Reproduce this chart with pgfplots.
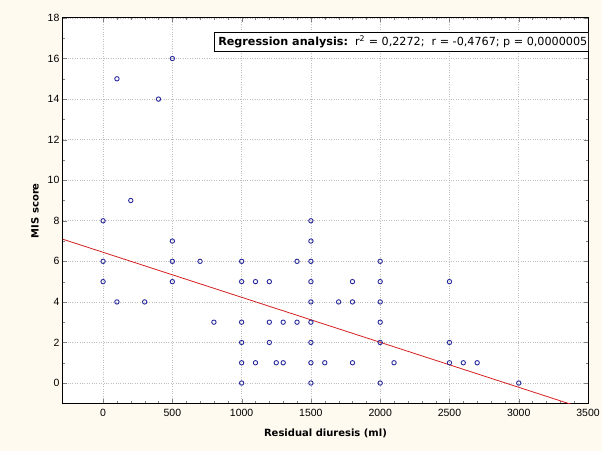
\documentclass[border=0pt]{standalone}
\usepackage{pgfplots}
\pgfplotsset{compat=1.18}
\usepackage{fontspec}
\setmainfont{Liberation Sans}
\newfontfamily\dejavu{DejaVu Sans}
\definecolor{bgcream}{HTML}{FFFAF0}
\definecolor{ptblue}{HTML}{2A2A9E}
\definecolor{regred}{HTML}{D42020}
\begin{document}
\begin{tikzpicture}
\fill[bgcream] (-63pt,-48pt) rectangle (540pt,404pt);
\begin{axis}[
  at={(0pt,0pt)}, anchor=south west,
  scale only axis, width=526pt, height=386pt,
  xmin=-290, xmax=3500, ymin=-1, ymax=18,
  xtick={0,500,...,3500}, ytick={0,2,...,18},
  minor x tick num=4, minor y tick num=1,
  tick align=inside,
  major tick length=4pt, minor tick length=2.5pt,
  axis line style={black, line width=1pt},
  axis background/.style={fill=white},
  grid=major,
  major grid style={gray!50, dotted, line width=0.6pt},
  /pgf/number format/assume math mode=true,
  /pgf/number format/1000 sep={},
  tick label style={font=\fontsize{10.5}{12}\selectfont},
  xticklabel style={yshift=-2pt},
  xlabel={\dejavu\bfseries Residual diuresis (ml)},
  ylabel={\dejavu\bfseries MIS score},
  label style={font=\fontsize{10}{12}\selectfont},
  xlabel style={yshift=-6pt},
  ylabel style={yshift=2pt},
  clip=true,
]
\addplot[only marks, mark=o, mark size=2.2pt, ptblue, mark options={line width=0.9pt}] coordinates {
(0,8) (0,6) (0,5)
(100,15) (100,4)
(200,9) (300,4) (400,14)
(500,16) (500,7) (500,6) (500,5)
(700,6) (800,3)
(1000,6) (1000,5) (1000,3) (1000,2) (1000,1) (1000,0)
(1100,5) (1100,1)
(1200,5) (1200,3) (1200,2)
(1250,1) (1300,1) (1300,3)
(1400,6) (1400,3)
(1500,8) (1500,7) (1500,6) (1500,5) (1500,4) (1500,3) (1500,2) (1500,1) (1500,0)
(1600,1) (1700,4)
(1800,5) (1800,4) (1800,1)
(2000,6) (2000,5) (2000,4) (2000,3) (2000,2) (2000,0)
(2100,1)
(2500,5) (2500,2) (2500,1)
(2600,1) (2700,1)
(3000,0)
};
\addplot[regred, line width=0.8pt] coordinates {(-290,7.09) (3500,-1.32)};
\node[draw=black, line width=0.8pt, fill=white, anchor=north east, inner sep=3.5pt,
  font=\dejavu\fontsize{11.2}{13}\selectfont] at (rel axis cs:1.006,0.964)
  {\textbf{Regression analysis:}\ \ r\textsuperscript{2} = 0,2272;\ \ r = -0,4767;\ p = 0,0000005};
\end{axis}
\end{tikzpicture}
\end{document}
